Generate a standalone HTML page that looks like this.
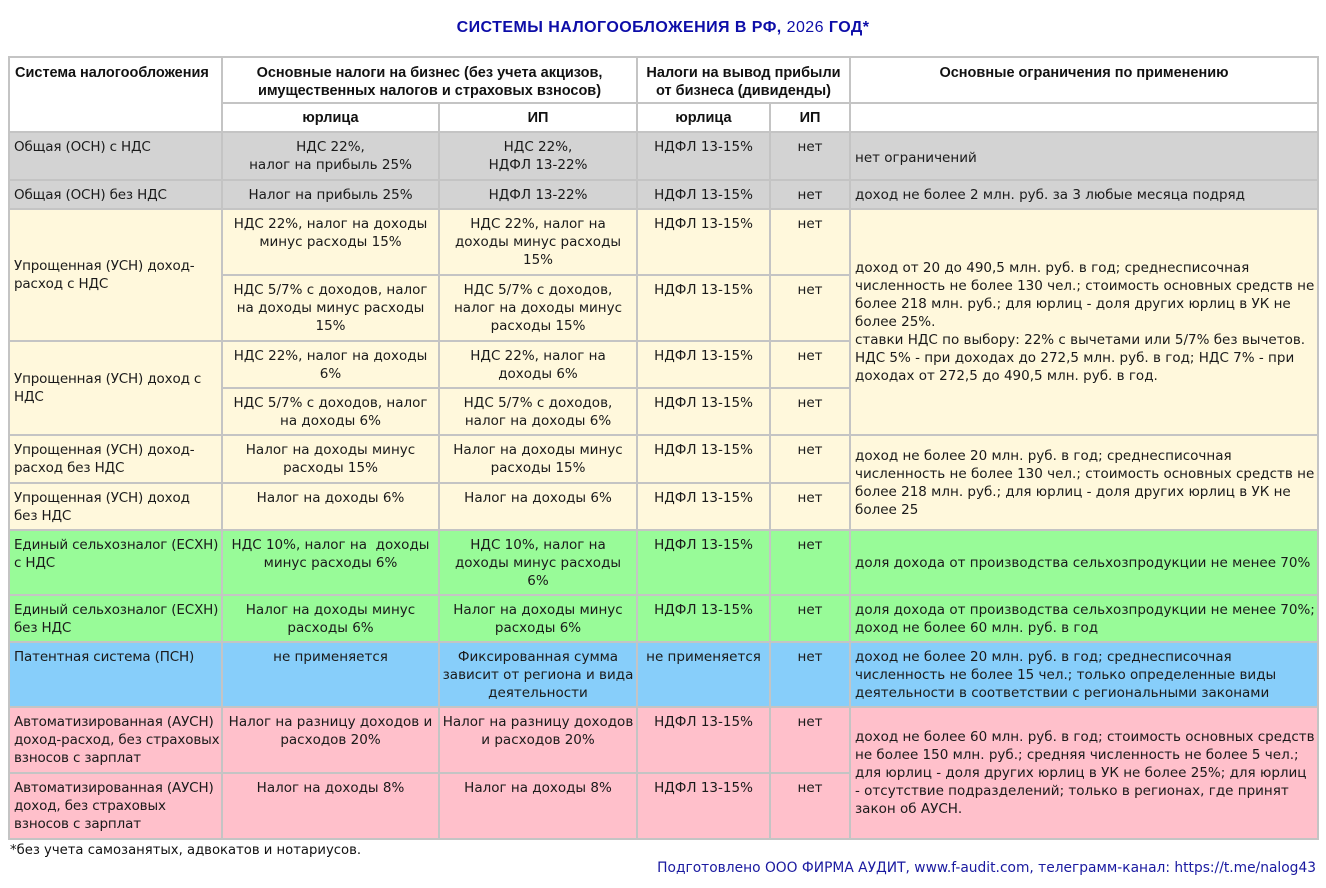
<!DOCTYPE html>
<html><head><meta charset="utf-8"><style>
*{margin:0;padding:0}
html,body{width:1326px;height:888px;background:#fff;overflow:hidden}
body{position:relative;font-family:"DejaVu Sans","Liberation Sans",sans-serif;color:#1a1a1a}
.title{position:absolute;left:0;top:18px;width:1326px;text-align:center;font:bold 16px/20px "Liberation Sans",sans-serif;color:#0d0da8;letter-spacing:0.45px}
.title span{font-weight:normal}
.grid{position:absolute;left:8px;top:56px;width:1311px;height:784px;background:#c4c4c4}
.c{position:absolute;box-sizing:border-box;padding:5px 4px 0 4px;white-space:nowrap;font-size:13.5px;line-height:18px;overflow:hidden}
.ctr{text-align:center;padding-left:0;padding-right:0}
.mid{display:flex;flex-direction:column;justify-content:center;padding-top:0}
.h{font-family:"Liberation Sans",sans-serif;font-weight:bold;font-size:14.5px;padding-top:6px;background:#fff;color:#111}
.g{background:#d3d3d3}.y{background:#fff8dc}.gr{background:#98fb98}.b{background:#87cefa}.p{background:#ffc0cb}.w{background:#fff}
.r6{font-size:13.5px}
.c1{letter-spacing:-0.15px}
.foot1{position:absolute;left:10px;top:842px;font-size:13.2px;line-height:18px;color:#111}
.foot2{position:absolute;right:10px;top:859px;font-size:13.8px;line-height:18px;color:#1a1aa0}
</style></head><body>
<div class="title">СИСТЕМЫ НАЛОГООБЛОЖЕНИЯ В РФ, <span>2026</span> ГОД*</div>
<div class="grid"></div>

<!-- header -->
<div class="c h" style="left:10px;top:58px;width:211px;height:73px;padding-left:5px">Система налогообложения</div>
<div class="c h ctr" style="left:223px;top:58px;width:413px;height:44px">Основные налоги на бизнес (без учета акцизов,<br>имущественных налогов и страховых взносов)</div>
<div class="c h ctr" style="left:638px;top:58px;width:211px;height:44px">Налоги на вывод прибыли<br>от бизнеса (дивиденды)</div>
<div class="c h ctr" style="left:851px;top:58px;width:466px;height:44px">Основные ограничения по применению</div>
<div class="c h ctr" style="left:223px;top:104px;width:215px;height:27px;padding-top:5px">юрлица</div>
<div class="c h ctr" style="left:440px;top:104px;width:196px;height:27px;padding-top:5px">ИП</div>
<div class="c h ctr" style="left:638px;top:104px;width:131px;height:27px;padding-top:5px">юрлица</div>
<div class="c h ctr" style="left:771px;top:104px;width:78px;height:27px;padding-top:5px">ИП</div>
<div class="c h" style="left:851px;top:104px;width:466px;height:27px"></div>

<!-- OSN 1 -->
<div class="c g c1" style="left:10px;top:133px;width:211px;height:46px">Общая (ОСН) с НДС</div>
<div class="c g ctr" style="left:223px;top:133px;width:215px;height:46px">НДС 22%,<br>налог на прибыль 25%</div>
<div class="c g ctr" style="left:440px;top:133px;width:196px;height:46px">НДС 22%,<br>НДФЛ 13-22%</div>
<div class="c g ctr" style="left:638px;top:133px;width:131px;height:46px">НДФЛ 13-15%</div>
<div class="c g ctr" style="left:771px;top:133px;width:78px;height:46px">нет</div>
<div class="c g mid r6" style="left:851px;top:133px;width:466px;height:46px;padding-top:4px">нет ограничений</div>

<!-- OSN 2 -->
<div class="c g c1" style="left:10px;top:181px;width:211px;height:27px">Общая (ОСН) без НДС</div>
<div class="c g ctr" style="left:223px;top:181px;width:215px;height:27px">Налог на прибыль 25%</div>
<div class="c g ctr" style="left:440px;top:181px;width:196px;height:27px">НДФЛ 13-22%</div>
<div class="c g ctr" style="left:638px;top:181px;width:131px;height:27px">НДФЛ 13-15%</div>
<div class="c g ctr" style="left:771px;top:181px;width:78px;height:27px">нет</div>
<div class="c g r6" style="left:851px;top:181px;width:466px;height:27px">доход не более 2 млн. руб. за 3 любые месяца подряд</div>

<!-- USN with VAT -->
<div class="c y mid c1" style="left:10px;top:210px;width:211px;height:130px">Упрощенная (УСН) доход-<br>расход с НДС</div>
<div class="c y ctr" style="left:223px;top:210px;width:215px;height:64px">НДС 22%, налог на доходы<br>минус расходы 15%</div>
<div class="c y ctr" style="left:440px;top:210px;width:196px;height:64px">НДС 22%, налог на<br>доходы минус расходы<br>15%</div>
<div class="c y ctr" style="left:638px;top:210px;width:131px;height:64px">НДФЛ 13-15%</div>
<div class="c y ctr" style="left:771px;top:210px;width:78px;height:64px">нет</div>

<div class="c y ctr" style="left:223px;top:276px;width:215px;height:64px">НДС 5/7% с доходов, налог<br>на доходы минус расходы<br>15%</div>
<div class="c y ctr" style="left:440px;top:276px;width:196px;height:64px">НДС 5/7% с доходов,<br>налог на доходы минус<br>расходы 15%</div>
<div class="c y ctr" style="left:638px;top:276px;width:131px;height:64px">НДФЛ 13-15%</div>
<div class="c y ctr" style="left:771px;top:276px;width:78px;height:64px">нет</div>

<div class="c y mid c1" style="left:10px;top:342px;width:211px;height:92px">Упрощенная (УСН) доход с<br>НДС</div>
<div class="c y ctr" style="left:223px;top:342px;width:215px;height:45px">НДС 22%, налог на доходы<br>6%</div>
<div class="c y ctr" style="left:440px;top:342px;width:196px;height:45px">НДС 22%, налог на<br>доходы 6%</div>
<div class="c y ctr" style="left:638px;top:342px;width:131px;height:45px">НДФЛ 13-15%</div>
<div class="c y ctr" style="left:771px;top:342px;width:78px;height:45px">нет</div>

<div class="c y ctr" style="left:223px;top:389px;width:215px;height:45px">НДС 5/7% с доходов, налог<br>на доходы 6%</div>
<div class="c y ctr" style="left:440px;top:389px;width:196px;height:45px">НДС 5/7% с доходов,<br>налог на доходы 6%</div>
<div class="c y ctr" style="left:638px;top:389px;width:131px;height:45px">НДФЛ 13-15%</div>
<div class="c y ctr" style="left:771px;top:389px;width:78px;height:45px">нет</div>

<div class="c y mid r6" style="left:851px;top:210px;width:466px;height:224px">доход от 20 до 490,5 млн. руб. в год; среднесписочная<br>численность не более 130 чел.; стоимость основных средств не<br>более 218 млн. руб.; для юрлиц - доля других юрлиц в УК не<br>более 25%.<br>ставки НДС по выбору: 22% с вычетами или 5/7% без вычетов.<br>НДС 5% - при доходах до 272,5 млн. руб. в год; НДС 7% - при<br>доходах от 272,5 до 490,5 млн. руб. в год.</div>

<!-- USN without VAT -->
<div class="c y c1" style="left:10px;top:436px;width:211px;height:46px">Упрощенная (УСН) доход-<br>расход без НДС</div>
<div class="c y ctr" style="left:223px;top:436px;width:215px;height:46px">Налог на доходы минус<br>расходы 15%</div>
<div class="c y ctr" style="left:440px;top:436px;width:196px;height:46px">Налог на доходы минус<br>расходы 15%</div>
<div class="c y ctr" style="left:638px;top:436px;width:131px;height:46px">НДФЛ 13-15%</div>
<div class="c y ctr" style="left:771px;top:436px;width:78px;height:46px">нет</div>

<div class="c y c1" style="left:10px;top:484px;width:211px;height:45px">Упрощенная (УСН) доход<br>без НДС</div>
<div class="c y ctr" style="left:223px;top:484px;width:215px;height:45px">Налог на доходы 6%</div>
<div class="c y ctr" style="left:440px;top:484px;width:196px;height:45px">Налог на доходы 6%</div>
<div class="c y ctr" style="left:638px;top:484px;width:131px;height:45px">НДФЛ 13-15%</div>
<div class="c y ctr" style="left:771px;top:484px;width:78px;height:45px">нет</div>

<div class="c y mid r6" style="left:851px;top:436px;width:466px;height:93px">доход не более 20 млн. руб. в год; среднесписочная<br>численность не более 130 чел.; стоимость основных средств не<br>более 218 млн. руб.; для юрлиц - доля других юрлиц в УК не<br>более 25</div>

<!-- ESXN -->
<div class="c gr c1" style="left:10px;top:531px;width:211px;height:63px">Единый сельхозналог (ЕСХН)<br>с НДС</div>
<div class="c gr ctr" style="left:223px;top:531px;width:215px;height:63px">НДС 10%, налог на&nbsp; доходы<br>минус расходы 6%</div>
<div class="c gr ctr" style="left:440px;top:531px;width:196px;height:63px">НДС 10%, налог на<br>доходы минус расходы<br>6%</div>
<div class="c gr ctr" style="left:638px;top:531px;width:131px;height:63px">НДФЛ 13-15%</div>
<div class="c gr ctr" style="left:771px;top:531px;width:78px;height:63px">нет</div>
<div class="c gr mid r6" style="left:851px;top:531px;width:466px;height:63px">доля дохода от производства сельхозпродукции не менее 70%</div>

<div class="c gr c1" style="left:10px;top:596px;width:211px;height:45px">Единый сельхозналог (ЕСХН)<br>без НДС</div>
<div class="c gr ctr" style="left:223px;top:596px;width:215px;height:45px">Налог на доходы минус<br>расходы 6%</div>
<div class="c gr ctr" style="left:440px;top:596px;width:196px;height:45px">Налог на доходы минус<br>расходы 6%</div>
<div class="c gr ctr" style="left:638px;top:596px;width:131px;height:45px">НДФЛ 13-15%</div>
<div class="c gr ctr" style="left:771px;top:596px;width:78px;height:45px">нет</div>
<div class="c gr mid r6" style="left:851px;top:596px;width:466px;height:45px">доля дохода от производства сельхозпродукции не менее 70%;<br>доход не более 60 млн. руб. в год</div>

<!-- PSN -->
<div class="c b c1" style="left:10px;top:643px;width:211px;height:63px">Патентная система (ПСН)</div>
<div class="c b ctr" style="left:223px;top:643px;width:215px;height:63px">не применяется</div>
<div class="c b ctr" style="left:440px;top:643px;width:196px;height:63px">Фиксированная сумма<br>зависит от региона и вида<br>деятельности</div>
<div class="c b ctr" style="left:638px;top:643px;width:131px;height:63px">не применяется</div>
<div class="c b ctr" style="left:771px;top:643px;width:78px;height:63px">нет</div>
<div class="c b mid r6" style="left:851px;top:643px;width:466px;height:63px">доход не более 20 млн. руб. в год; среднесписочная<br>численность не более 15 чел.; только определенные виды<br>деятельности в соответствии с региональными законами</div>

<!-- AUSN -->
<div class="c p c1" style="left:10px;top:708px;width:211px;height:64px">Автоматизированная (АУСН)<br>доход-расход, без страховых<br>взносов с зарплат</div>
<div class="c p ctr" style="left:223px;top:708px;width:215px;height:64px">Налог на разницу доходов и<br>расходов 20%</div>
<div class="c p ctr" style="left:440px;top:708px;width:196px;height:64px">Налог на разницу доходов<br>и расходов 20%</div>
<div class="c p ctr" style="left:638px;top:708px;width:131px;height:64px">НДФЛ 13-15%</div>
<div class="c p ctr" style="left:771px;top:708px;width:78px;height:64px">нет</div>

<div class="c p c1" style="left:10px;top:774px;width:211px;height:64px">Автоматизированная (АУСН)<br>доход, без страховых<br>взносов с зарплат</div>
<div class="c p ctr" style="left:223px;top:774px;width:215px;height:64px">Налог на доходы 8%</div>
<div class="c p ctr" style="left:440px;top:774px;width:196px;height:64px">Налог на доходы 8%</div>
<div class="c p ctr" style="left:638px;top:774px;width:131px;height:64px">НДФЛ 13-15%</div>
<div class="c p ctr" style="left:771px;top:774px;width:78px;height:64px">нет</div>

<div class="c p mid r6" style="left:851px;top:708px;width:466px;height:130px">доход не более 60 млн. руб. в год; стоимость основных средств<br>не более 150 млн. руб.; средняя численность не более 5 чел.;<br>для юрлиц - доля других юрлиц в УК не более 25%; для юрлиц<br>- отсутствие подразделений; только в регионах, где принят<br>закон об АУСН.</div>

<div class="foot1">*без учета самозанятых, адвокатов и нотариусов.</div>
<div class="foot2">Подготовлено ООО ФИРМА АУДИТ, www.f-audit.com, телеграмм-канал: https://t.me/nalog43</div>
</body></html>
